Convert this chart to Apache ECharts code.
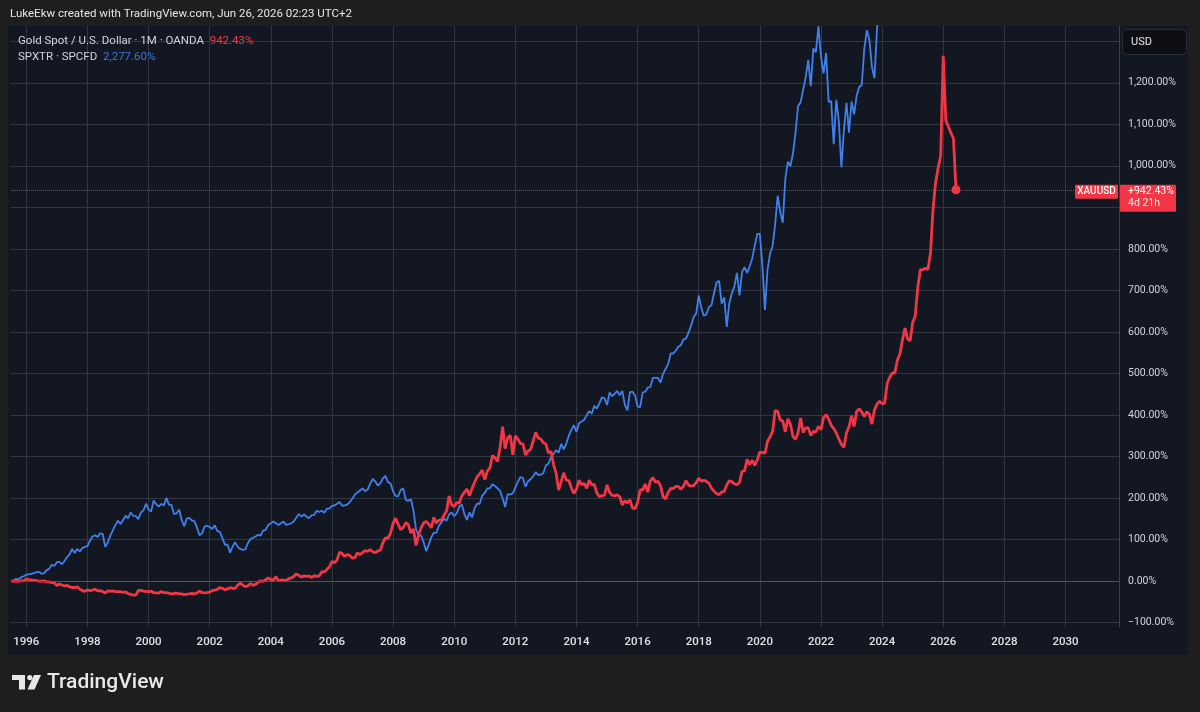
<!DOCTYPE html>
<html>
<head>
<meta charset="utf-8">
<title>Gold vs SPXTR</title>
<script src="https://cdn.jsdelivr.net/npm/echarts@6/dist/echarts.min.js"></script>
<style>
  html, body { margin: 0; padding: 0; background: #1e1e1e; }
  #chart { width: 1200px; height: 712px; }
</style>
</head>
<body>
<div id="chart"></div>
<script>
// 月线，1995-07 开始，时间轴一直画到 2031-10
var firstMonth = [1995, 7];
var lastMonth = [2031, 10];
var yearLabels = ['1996', '1998', '2000', '2002', '2004', '2006', '2008', '2010', '2012',
                  '2014', '2016', '2018', '2020', '2022', '2024', '2026', '2028', '2030'];
var yTicks = [-100, 0, 100, 200, 300, 400, 500, 600, 700, 800, 900, 1000, 1100, 1200, 1300];

// XAUUSD 涨幅 %（1995-07 起，每年一行）
var goldPct = [
  0, -1, -0.8, -1, 0, 0,
  4.7, 3.4, 2.3, 1.3, 1.0, -1.3, -0.5, 0, -2.1, -2.1, -4.1, -4.7,
  -10.9, -7.5, -9.8, -12.1, -10.9, -13.7, -15.8, -16.0, -14.2, -19.6, -23.5, -25.1,
  -21.7, -23.3, -22.2, -20.2, -24.0, -23.5, -25.6, -29.2, -24.0, -24.5, -24.0, -25.6,
  -25.8, -25.8, -27.9, -26.1, -30.7, -32.6, -34.1, -34.4, -22.7, -22.7, -24.5, -25.1,
  -26.6, -24.3, -28.4, -28.9, -29.5, -25.6, -28.4, -28.2, -29.5, -31.8, -30.2, -29.2,
  -31.3, -31.0, -33.3, -31.8, -31.3, -30.0, -31.3, -29.2, -24.3, -27.9, -28.9, -28.2,
  -27.1, -23.3, -22.0, -20.4, -15.8, -17.8, -21.4, -19.1, -16.3, -18.1, -17.8, -10.3,
  -4.9, -10.1, -13.4, -12.4, -5.9, -10.6, -8.3, -3.1, 0.3, -0.8, 2.8, 7.5,
  3.4, 2.3, 10.3, 0.3, 1.8, 2.1, 1.0, 5.7, 7.2, 10.6, 17.1, 13.2,
  9.0, 12.4, 10.6, 12.4, 7.8, 12.7, 10.9, 11.9, 22.2, 21.2, 27.9, 33.6,
  47.0, 43.7, 50.6, 69.3, 66.1, 58.9, 63.6, 61.2, 54.8, 56.1, 67.4, 63.3,
  68.0, 72.9, 71.3, 75.5, 70.3, 68.0, 72.1, 73.9, 92.0, 103.9, 102.3, 115.5,
  138.5, 151.2, 136.7, 123.3, 128.9, 140.3, 135.7, 115.2, 125.3, 85.5, 110.6, 127.9,
  139.5, 143.4, 136.7, 128.2, 153.0, 139.3, 146.5, 146.8, 158.7, 168.7, 204.7, 183.2,
  179.3, 188.9, 187.6, 204.9, 213.4, 221.4, 205.2, 222.5, 237.7, 250.6, 258.1, 267.2,
  244.2, 264.3, 271.8, 302.1, 296.9, 287.6, 320.7, 371.8, 318.6, 345.0, 351.2, 304.1,
  349.1, 341.9, 331.0, 330.0, 303.1, 312.9, 317.1, 337.2, 358.1, 343.9, 342.1, 332.8,
  329.7, 307.8, 312.4, 280.4, 259.9, 218.9, 239.3, 260.5, 242.9, 241.9, 223.8, 210.6,
  221.4, 242.6, 231.8, 234.9, 223.0, 242.9, 231.3, 232.6, 212.1, 202.8, 205.7, 205.9,
  231.5, 213.4, 205.9, 205.7, 207.5, 202.8, 183.0, 193.3, 188.1, 195.1, 175.2, 174.2,
  188.9, 219.9, 218.6, 233.6, 214.0, 241.3, 249.1, 238.2, 240.1, 229.7, 203.1, 197.7,
  212.9, 222.7, 222.7, 227.6, 227.9, 220.9, 227.9, 241.6, 230.8, 228.4, 229.5, 236.7,
  247.5, 240.6, 242.4, 239.8, 235.7, 223.8, 216.3, 210.3, 208.0, 214.0, 215.8, 231.3,
  241.3, 239.3, 233.9, 231.8, 237.2, 264.1, 265.1, 292.8, 280.4, 291.0, 278.3, 292.0,
  310.6, 309.6, 307.5, 335.9, 347.0, 360.2, 410.3, 408.5, 387.6, 385.5, 359.2, 390.4,
  377.5, 348.1, 341.3, 357.1, 392.5, 357.4, 368.7, 368.7, 350.4, 360.7, 358.7, 372.6,
  364.3, 393.3, 400.5, 390.2, 374.9, 366.9, 356.3, 342.1, 329.2, 322.0, 357.1, 371.3,
  398.2, 372.1, 408.8, 414.2, 407.2, 395.9, 407.8, 401.3, 377.8, 412.4, 426.1, 433.1,
  427.1, 428.2, 476.2, 490.7, 501.3, 501.0, 532.3, 546.8, 580.9, 609.1, 583.0, 578.3,
  623.0, 638.5, 707.2, 749.9, 749.9, 753.5, 750.1, 791.0, 896.9, 960, 995, 1025,
  1265, 1110, 1095, 1080, 1066, 942.43
];

// SPXTR 涨幅 %（同一起点，2023 年底以后超出图顶）
var spxPct = [
  0, 1, 5, 4, 9, 11,
  15, 16, 17, 19, 21, 22, 17, 19, 26, 29, 39, 36,
  45, 46, 40, 48, 57, 64, 77, 67, 77, 71, 79, 82,
  84, 97, 107, 110, 106, 115, 113, 82, 93, 109, 122, 135,
  145, 137, 147, 157, 151, 165, 157, 156, 149, 165, 170, 186,
  172, 167, 194, 185, 179, 186, 182, 200, 184, 183, 161, 163,
  172, 147, 132, 150, 152, 146, 144, 129, 110, 114, 131, 133,
  130, 125, 134, 120, 118, 103, 87, 88, 68, 83, 93, 82,
  77, 75, 76, 91, 101, 104, 107, 111, 109, 121, 123, 135,
  139, 143, 139, 135, 139, 143, 135, 136, 139, 143, 152, 161,
  155, 160, 155, 151, 158, 159, 169, 166, 169, 164, 174, 174,
  181, 182, 186, 190, 181, 182, 184, 190, 198, 208, 213, 218,
  223, 216, 220, 234, 246, 240, 230, 235, 247, 253, 238, 235,
  216, 205, 204, 219, 223, 195, 193, 197, 170, 125, 109, 110,
  93, 72, 87, 105, 116, 116, 133, 141, 150, 145, 160, 165,
  156, 163, 179, 184, 161, 147, 165, 153, 175, 186, 186, 205,
  212, 223, 223, 233, 229, 223, 217, 199, 178, 209, 208, 211,
  225, 239, 250, 248, 227, 240, 245, 252, 262, 255, 256, 260,
  278, 283, 298, 306, 315, 309, 330, 317, 331, 350, 364, 375,
  359, 380, 384, 388, 399, 409, 403, 422, 415, 428, 442, 440,
  424, 454, 445, 451, 458, 447, 458, 424, 411, 455, 456, 447,
  420, 419, 454, 456, 466, 467, 489, 489, 489, 478, 499, 511,
  523, 548, 548, 555, 564, 568, 582, 584, 598, 615, 636, 644,
  688, 658, 639, 642, 660, 664, 693, 719, 723, 668, 683, 612,
  669, 693, 709, 742, 688, 744, 756, 742, 758, 777, 808, 836,
  836, 759, 653, 749, 789, 807, 859, 928, 889, 863, 969, 1010,
  999, 1030, 1080, 1144, 1153, 1183, 1214, 1255, 1192, 1283, 1274, 1336,
  1263, 1223, 1272, 1154, 1156, 1052, 1159, 1108, 997, 1086, 1152, 1080,
  1155, 1124, 1169, 1190, 1195, 1282, 1327, 1304, 1238, 1211, 1330, 1396,
  1422, 1503, 1556, 1490, 1569, 1629, 1652, 1694, 1734, 1719, 1826, 1781,
  1836, 1811, 1704, 1693, 1807, 1905, 1951, 1994, 2071, 2124, 2131, 2133,
  2168, 2152, 2081, 2166, 2236, 2277.6
];

// 月份类目
var months = [];
var yy = firstMonth[0], mm = firstMonth[1];
while (yy < lastMonth[0] || (yy === lastMonth[0] && mm <= lastMonth[1])) {
    months.push(yy + '-' + (mm < 10 ? '0' + mm : mm));
    mm++;
    if (mm > 12) { mm = 1; yy++; }
}

var RED = '#f23645';
var BLUE = '#4080ec';
var TXT = '#d1d4dc';
var GRIDC = '#323641';
var FONT = 'Roboto, "Noto Sans", sans-serif';

function pct(v) {
    var s = Math.abs(v).toLocaleString('en-US', {minimumFractionDigits: 2, maximumFractionDigits: 2});
    return (v < 0 ? '\u2212' : '') + s + '%';
}
function isYearTick(idx, val) {
    return val.slice(5) === '01' && yearLabels.indexOf(val.slice(0, 4)) >= 0;
}

var chart = echarts.init(document.getElementById('chart'));

var option = {
    backgroundColor: '#1e1e1e',
    animation: false,
    grid: { left: 11, right: 81, top: 26, bottom: 85, containLabel: false },
    xAxis: {
        type: 'category',
        data: months,
        boundaryGap: false,
        axisLine: { show: true, lineStyle: { color: '#3c404b' } },
        axisTick: { show: false },
        axisLabel: {
            interval: isYearTick,
            formatter: function (v) { return v.slice(0, 4); },
            color: '#dfe1e6',
            fontSize: 11.5,
            fontWeight: 500,
            fontFamily: FONT,
            margin: 9
        },
        splitLine: { show: true, interval: isYearTick, lineStyle: { color: GRIDC, width: 1 } }
    },
    yAxis: {
        type: 'value',
        position: 'right',
        min: -111,
        max: 1337,
        axisLine: { show: true, lineStyle: { color: '#3c404b' } },
        axisTick: { show: false, customValues: yTicks },
        axisLabel: {
            customValues: yTicks,
            formatter: pct,
            color: TXT,
            fontSize: 10.5,
            fontFamily: FONT,
            margin: 9
        },
        splitLine: { show: true, lineStyle: { color: GRIDC, width: 1 } }
    },
    series: [
        {
            name: 'SPXTR',
            type: 'line',
            data: spxPct,
            showSymbol: false,
            z: 2,
            lineStyle: { color: BLUE, width: 1.8 },
            markLine: {
                silent: true,
                symbol: 'none',
                label: { show: false },
                lineStyle: { color: '#50545f', type: 'solid', width: 1 },
                data: [{ yAxis: 0 }]
            }
        },
        {
            name: 'XAUUSD',
            type: 'line',
            data: goldPct,
            showSymbol: false,
            z: 3,
            lineStyle: { color: RED, width: 2.8 },
            markLine: {
                silent: true,
                symbol: 'none',
                label: { show: false },
                lineStyle: { color: 'rgba(242,54,69,0.75)', type: 'dotted', width: 1 },
                data: [{ yAxis: goldPct[goldPct.length - 1] }]
            },
            markPoint: {
                silent: true,
                symbol: 'circle',
                symbolSize: 9,
                label: { show: false },
                itemStyle: { color: RED },
                data: [{ coord: [months[goldPct.length - 1], goldPct[goldPct.length - 1]] }]
            }
        }
    ]
};
chart.setOption(option);

// 价格标签跟着 y 轴走
var lastGold = goldPct[goldPct.length - 1];
var lastSpx = spxPct[spxPct.length - 1];
var py = chart.convertToPixel({ yAxisIndex: 0 }, lastGold);

chart.setOption({
    graphic: [
        // 图表面板底色
        { type: 'rect', z: -10, silent: true, shape: { x: 8, y: 26, width: 1180, height: 629 }, style: { fill: '#131722' } },
        // 顶部署名
        { type: 'text', x: 10, y: 14, style: { text: 'LukeEkw created with TradingView.com, Jun 26, 2026 02:23 UTC+2', fill: '#e6e6e6', fontSize: 11.5, fontFamily: FONT, verticalAlign: 'middle' } },
        // 图例
        { type: 'text', x: 18, y: 41, z: 10, style: {
            text: 'Gold Spot / U.S. Dollar · 1M · OANDA  {r|' + pct(lastGold) + '}',
            fill: TXT, fontSize: 11.5, fontFamily: FONT, verticalAlign: 'middle',
            rich: { r: { fill: RED, fontSize: 11.5, fontFamily: FONT } } } },
        { type: 'text', x: 18, y: 57, z: 10, style: {
            text: 'SPXTR · SPCFD  {b|' + pct(lastSpx) + '}',
            fill: TXT, fontSize: 11.5, fontFamily: FONT, verticalAlign: 'middle',
            rich: { b: { fill: '#3b74e0', fontSize: 11.5, fontFamily: FONT } } } },
        // USD 按钮
        { type: 'rect', z: 20, shape: { x: 1122.5, y: 29.5, width: 64, height: 25, r: 4 }, style: { fill: '#0d0f14', stroke: '#2a2e39', lineWidth: 1 } },
        { type: 'text', z: 21, x: 1131, y: 42, style: { text: 'USD', fill: '#e6e6e6', fontSize: 11, fontFamily: FONT, verticalAlign: 'middle' } },
        // 最新价标签
        { type: 'rect', z: 20, shape: { x: 1075, y: py - 5, width: 43, height: 14, r: 1 }, style: { fill: RED } },
        { type: 'text', z: 21, x: 1096.5, y: py + 2, style: { text: 'XAUUSD', fill: '#ffffff', fontSize: 10, fontWeight: 500, fontFamily: FONT, align: 'center', verticalAlign: 'middle' } },
        { type: 'rect', z: 20, shape: { x: 1120, y: py - 5, width: 56, height: 27, r: 1 }, style: { fill: RED } },
        { type: 'text', z: 21, x: 1128, y: py + 2, style: { text: '+' + pct(lastGold), fill: '#ffffff', fontSize: 10.5, fontFamily: FONT, verticalAlign: 'middle' } },
        { type: 'text', z: 21, x: 1128, y: py + 14, style: { text: '4d 21h', fill: '#ffe6e8', fontSize: 10.5, fontFamily: FONT, verticalAlign: 'middle' } },
        // TradingView 标志
        { type: 'rect', shape: { x: 12, y: 675, width: 13, height: 5 }, style: { fill: '#e8e8e8' } },
        { type: 'rect', shape: { x: 19, y: 675, width: 6, height: 14.5 }, style: { fill: '#e8e8e8' } },
        { type: 'circle', shape: { cx: 29.8, cy: 677.6, r: 2.6 }, style: { fill: '#e8e8e8' } },
        { type: 'polygon', shape: { points: [[34, 675], [41, 675], [34.5, 689.5], [27.5, 689.5]] }, style: { fill: '#e8e8e8' } },
        { type: 'text', x: 47, y: 683, style: { text: 'TradingView', fill: '#e8e8e8', fontSize: 21, fontWeight: 500, fontFamily: FONT, verticalAlign: 'middle' } }
    ]
});
</script>
</body>
</html>
